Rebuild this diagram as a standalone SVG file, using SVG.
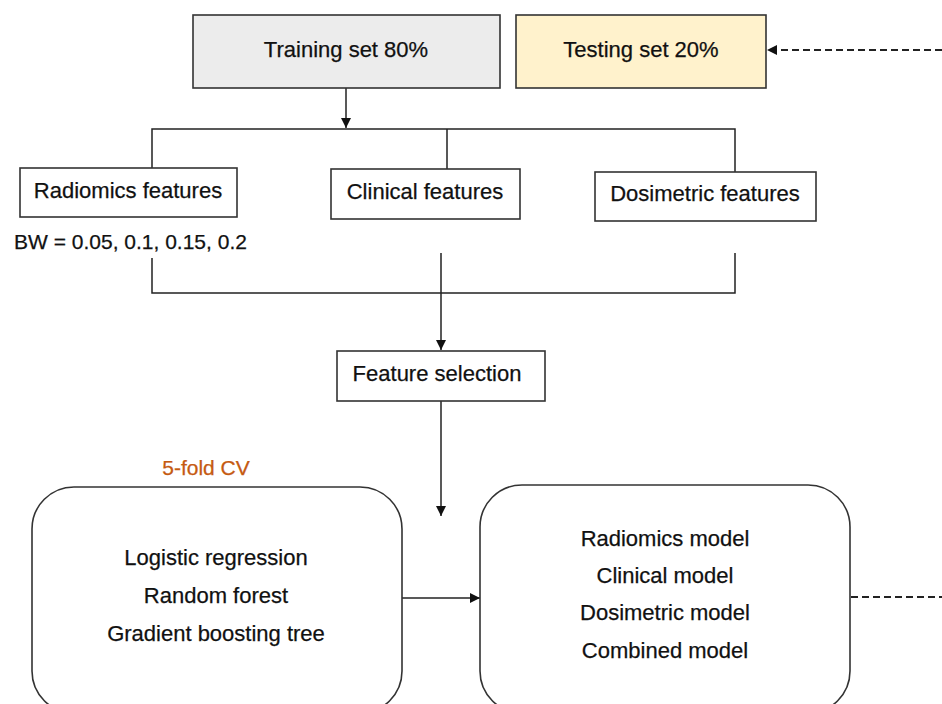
<svg xmlns="http://www.w3.org/2000/svg" width="942" height="704" viewBox="0 0 942 704">
  <style>
    .box { stroke: #333; stroke-width: 1.6; fill: #fff; }
    .lbl { font-family: "Liberation Sans", Arial, sans-serif; font-size: 22px; fill: #111; text-anchor: middle; stroke: #111; stroke-width: 0.25; }
    .ln { stroke: #222; stroke-width: 1.5; fill: none; }
    .dash { stroke: #222; stroke-width: 2; fill: none; stroke-dasharray: 7 4; }
  </style>
  <defs>
    <marker id="ah" viewBox="0 0 10 10" refX="10" refY="5" markerWidth="10" markerHeight="10" markerUnits="userSpaceOnUse" orient="auto">
      <path d="M0,0 L10,5 L0,10 z" fill="#111"/>
    </marker>
  </defs>

  <!-- connectors -->
  <g id="connectors">
    <line class="ln" x1="346" y1="88" x2="346" y2="128" marker-end="url(#ah)"/>
    <path class="ln" d="M152,168 V129 H735 V172 M447,129 V169"/>
    <path class="ln" d="M152,258 V293 H735 V253 M441,253 V293"/>
    <line class="ln" x1="441" y1="293" x2="441" y2="350" marker-end="url(#ah)"/>
    <line class="ln" x1="441" y1="401" x2="441" y2="516" marker-end="url(#ah)"/>
    <line class="ln" x1="402" y1="598" x2="480" y2="598" marker-end="url(#ah)"/>
    <line class="dash" x1="942" y1="50" x2="767" y2="50" marker-end="url(#ah)"/>
    <line class="dash" x1="851" y1="597" x2="942" y2="597"/>
  </g>

  <g id="training">
    <rect class="box" x="193" y="15" width="307" height="73" style="fill:#ececec"/>
    <text class="lbl" x="346" y="57">Training set 80%</text>
  </g>
  <g id="testing">
    <rect class="box" x="516" y="15" width="250" height="73" style="fill:#fff2cc"/>
    <text class="lbl" x="641" y="57">Testing set 20%</text>
  </g>

  <g id="radiomics">
    <rect class="box" x="20" y="168" width="217" height="49"/>
    <text class="lbl" x="128" y="198">Radiomics features</text>
  </g>
  <text class="lbl" x="14" y="249" style="text-anchor:start;font-size:21px">BW = 0.05, 0.1, 0.15, 0.2</text>

  <g id="clinical">
    <rect class="box" x="331" y="169" width="189" height="50"/>
    <text class="lbl" x="425" y="199">Clinical features</text>
  </g>
  <g id="dosimetric">
    <rect class="box" x="595" y="172" width="221" height="49"/>
    <text class="lbl" x="705" y="201">Dosimetric features</text>
  </g>

  <g id="feature-selection">
    <rect class="box" x="337" y="351" width="208" height="50"/>
    <text class="lbl" x="437" y="381">Feature selection</text>
  </g>

  <text class="lbl" x="206" y="475" style="fill:#c55a11;stroke:#c55a11;font-size:21px">5-fold CV</text>

  <g id="classifiers">
    <rect class="box" x="32" y="487" width="370" height="226" rx="42"/>
    <text class="lbl" x="216" y="565">Logistic regression</text>
    <text class="lbl" x="216" y="603">Random forest</text>
    <text class="lbl" x="216" y="641">Gradient boosting tree</text>
  </g>

  <g id="models">
    <rect class="box" x="480" y="485" width="370" height="228" rx="42"/>
    <text class="lbl" x="665" y="546">Radiomics model</text>
    <text class="lbl" x="665" y="583">Clinical model</text>
    <text class="lbl" x="665" y="620">Dosimetric model</text>
    <text class="lbl" x="665" y="658">Combined model</text>
  </g>
</svg>
